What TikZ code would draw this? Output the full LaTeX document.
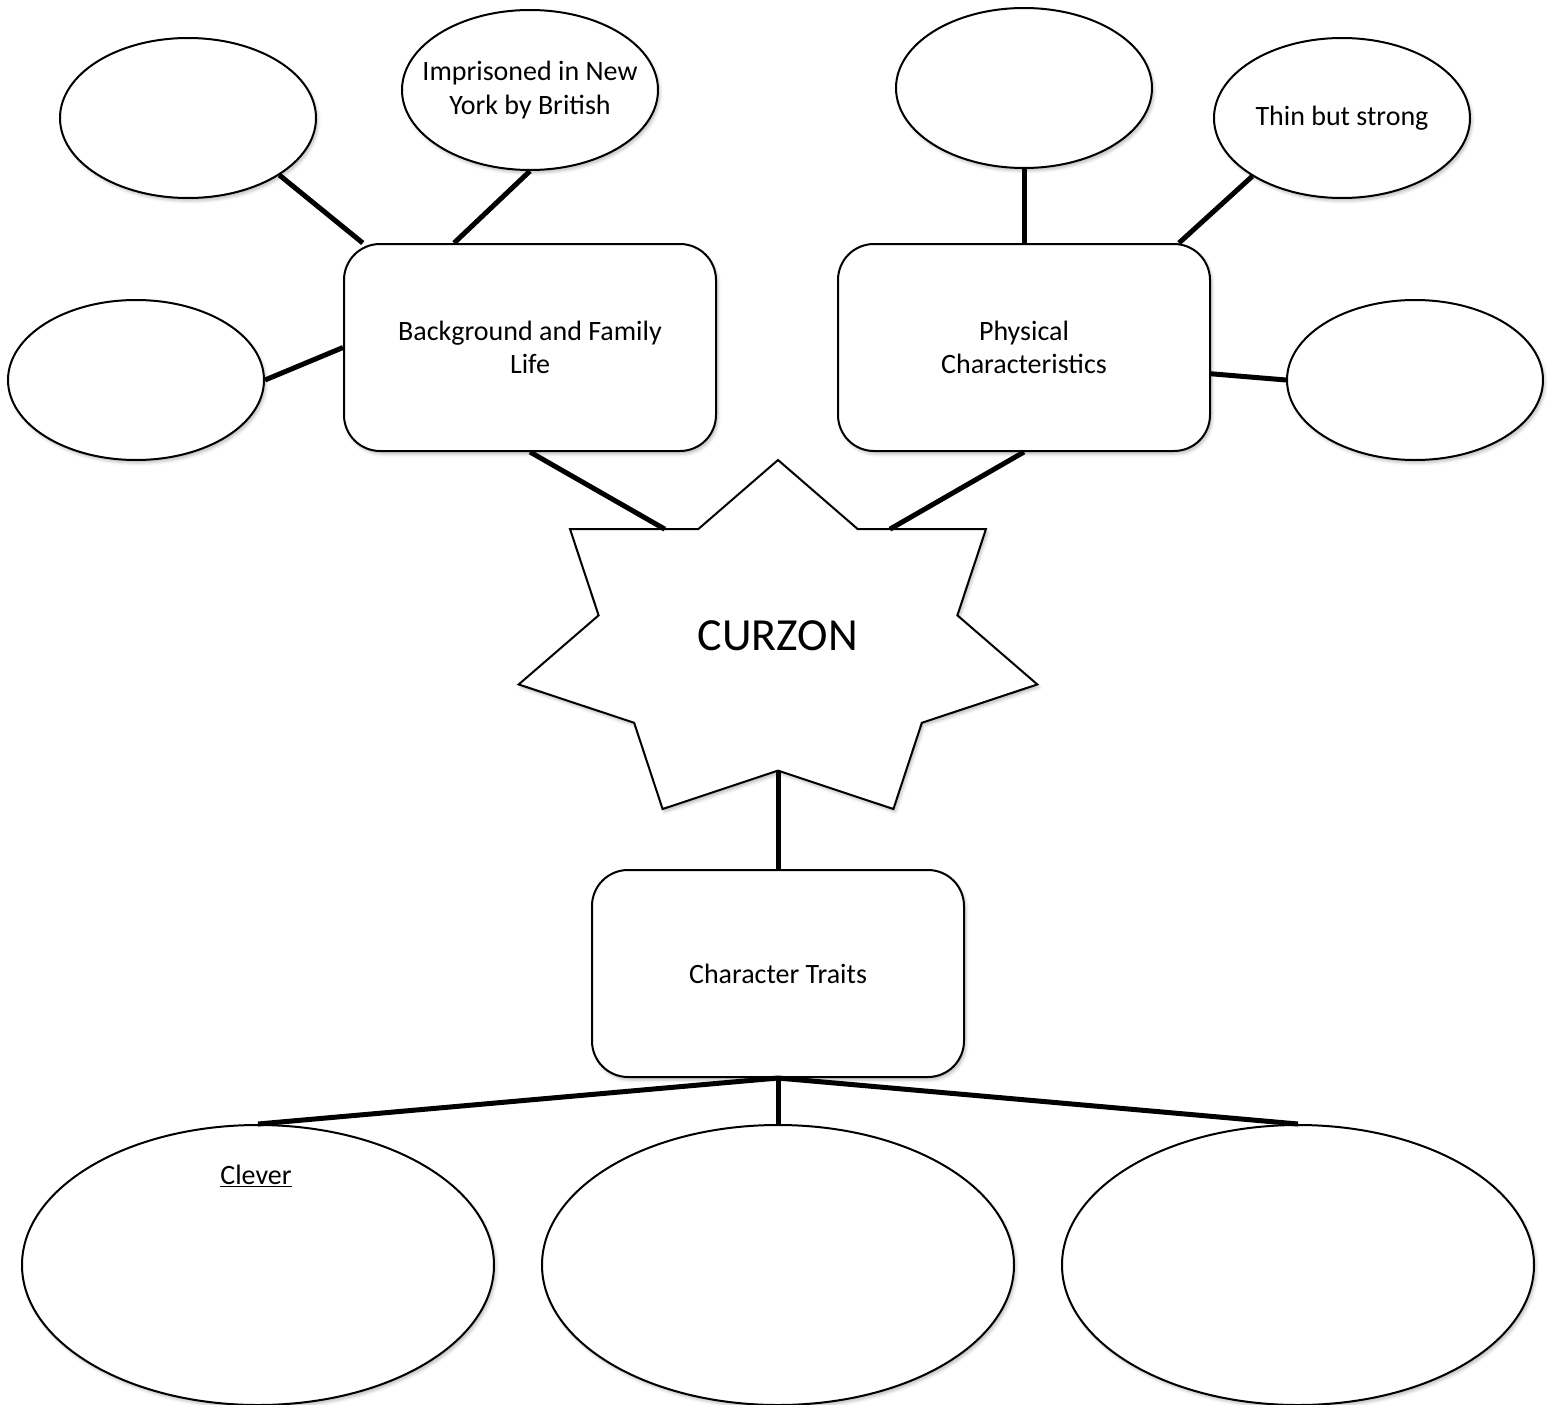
\documentclass[tikz,border=0pt]{standalone}
\usepackage{fontspec}
\setmainfont{Carlito}
\usetikzlibrary{shapes.geometric}
\usetikzlibrary{calc}
\usetikzlibrary{shadows.blur}

\begin{document}
\begin{tikzpicture}[x=1pt, y=-1pt,
sh/.style={blur shadow={shadow xshift=2pt, shadow yshift=-3pt, shadow blur radius=3pt, shadow opacity=25}},
box/.style={rectangle, rounded corners=36pt, draw, line width=2pt, fill=white, minimum width=372pt, minimum height=207pt, align=center, inner sep=0pt, sh},
oval/.style={ellipse, draw, line width=2pt, fill=white, minimum width=256pt, minimum height=160pt, align=center, inner sep=0pt, sh},
big/.style={oval, minimum width=472pt, minimum height=280pt},
link/.style={line width=5pt},
every node/.style={font=\fontsize{28}{33.5}\selectfont}]
\useasboundingbox (0,0) rectangle (1551,1405);
\node[oval] (b1) at (188,118) {};
\node[oval, inner xsep=-20pt] (b2) at (530,90) {Imprisoned in New\\York by British};
\node[oval] (b3) at (136,380) {};
\node[oval] (p1) at (1024,88) {};
\node[oval] (p2) at (1342,118) {Thin but strong};
\node[oval] (p3) at (1415,380) {};
\node[box] (bg) at (530,347.5) {Background and Family\\Life};
\node[box] (ph) at (1024,347.5) {Physical\\Characteristics};
\node[box] (tr) at (778,973.5) {Character Traits};
\node[big] (t1) at (258,1265) {};
\node[big] (t2) at (778,1265) {};
\node[big] (t3) at (1298,1265) {};
\node (clever) at (256,1176) {\underline{Clever}};
\foreach \i in {0,...,6} {
  \coordinate (czo\i) at ({778+266*cos(90+\i*360/7)}, {643.6-183.6*sin(90+\i*360/7)});
  \coordinate (czi\i) at ({778+184*cos(90+(\i+0.5)*360/7)}, {643.6-127*sin(90+(\i+0.5)*360/7)});
}
\draw[line width=2pt, fill=white, line join=miter, sh] (czo0) -- (czi0) -- (czo1) -- (czi1) -- (czo2) -- (czi2) -- (czo3) -- (czi3)
  -- (czo4) -- (czi4) -- (czo5) -- (czi5) -- (czo6) -- (czi6) -- cycle;
\node[font=\fontsize{46}{55}\selectfont] (cz) at (778,636) {CURZON};
\draw[link] (b1.-32.5) to (bg.148.7);
\draw[link] (b2.south) to (bg.126.7);
\draw[link] (b3.east) to (bg.west);
\draw[link] (bg.south) to ($(czi0)!0.26!(czo1)$);
\draw[link] (p1.south) to (ph.north);
\draw[link] (p2.-147.8) to (ph.34.2);
\draw[link] (p3.west) to (ph.-8.1);
\draw[link] (ph.south) to ($(czi6)!0.25!(czo6)$);
\draw[link] (czi3) to (tr.north);
\draw[link] (tr.south) to (t1.north);
\draw[link] (tr.south) to (t2.north);
\draw[link] (tr.south) to (t3.north);
\end{tikzpicture}
\end{document}
